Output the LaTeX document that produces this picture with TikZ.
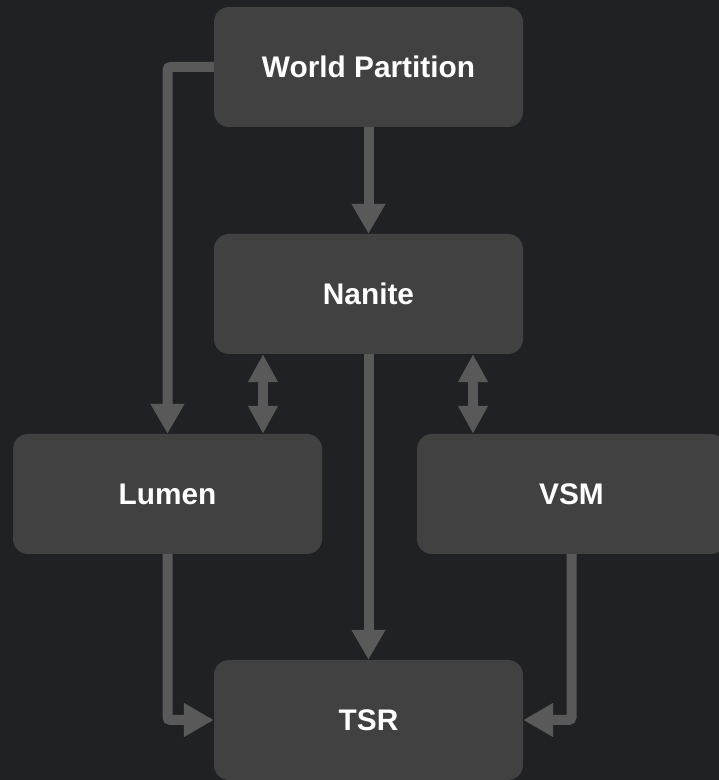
\documentclass[tikz,border=0pt]{standalone}
\usepackage{fontspec}
\setmainfont{Liberation Sans}
\usepackage{tikz}
\usetikzlibrary{positioning}
\usetikzlibrary{arrows.meta}

\definecolor{bgcol}{HTML}{202124}
\definecolor{boxcol}{HTML}{414141}
\definecolor{linecol}{HTML}{595959}

\tikzset{
  block/.style={fill=boxcol,rounded corners=15pt,minimum width=309pt,minimum height=120pt,
    text=white,font=\fontsize{29.8}{34}\selectfont\bfseries,inner sep=0pt},
  flow/.style={draw=linecol,line width=10pt,rounded corners=3pt,
    -{Triangle[width=32pt,length=30pt]}},
  twoway/.style={draw=linecol,line width=10pt,
    {Triangle[width=28pt,length=28pt]}-{Triangle[width=28pt,length=28pt]}}
}

\begin{document}
\begin{tikzpicture}[x=1pt,y=1pt]
        \fill[bgcol] (0,0) rectangle (719,780);
        \useasboundingbox (0,0) rectangle (719,780);
        \clip (0,0) rectangle (719,780);

        \node[block] (wp) at (368.5,713) {World Partition};
        \node[block] (nanite) at (368.5,486) {Nanite};
        \node[block] (lumen) at (167.5,286) {Lumen};
        \node[block] (vsm) at (571.5,286) {VSM};
        \node[block] (tsr) at (368.5,60) {TSR};

        \draw[flow] (wp.west) -| (lumen.north);
        \draw[flow] (wp) -- (nanite);
        \draw[flow] (nanite) -- (tsr);
        \draw[twoway] ([xshift=-105.5]nanite.south) -- ([xshift=-105.5]nanite.south |- lumen.north);
        \draw[twoway] ([xshift=104.5]nanite.south) -- ([xshift=104.5]nanite.south |- vsm.north);
        \draw[flow] (lumen.south) |- (tsr.west);
        \draw[flow] (vsm.south) |- (tsr.east);
\end{tikzpicture}
\end{document}
